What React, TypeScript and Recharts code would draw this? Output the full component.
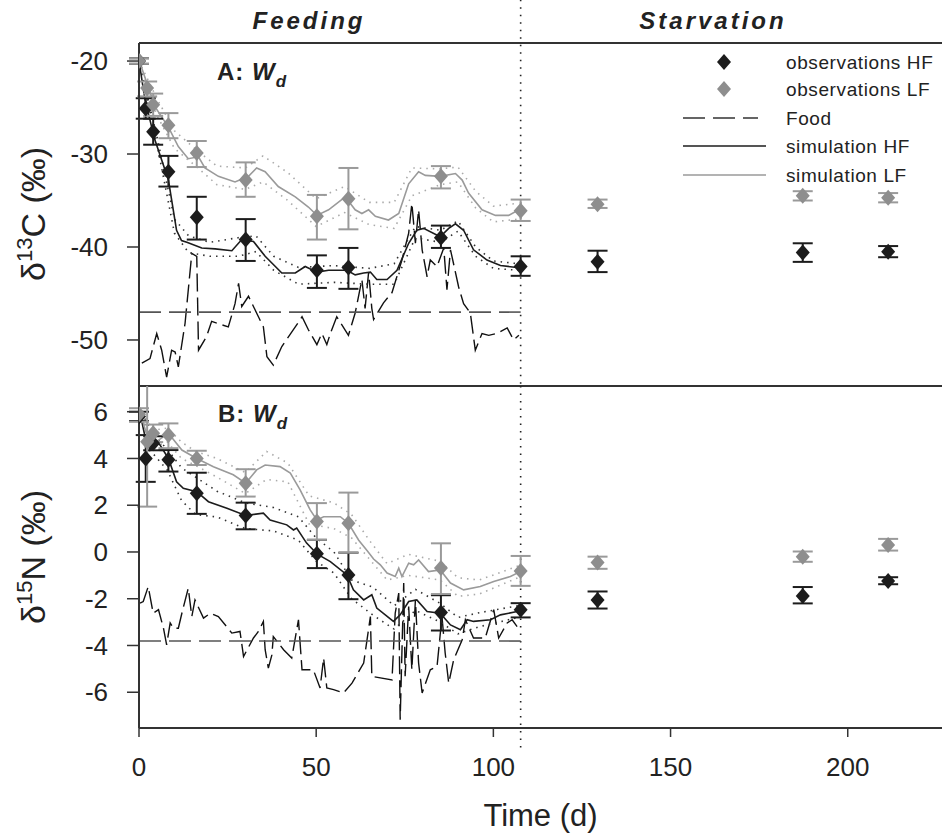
import React from 'react';
import { ComposedChart, Line, Scatter, XAxis, YAxis, ErrorBar, ReferenceLine } from 'recharts';

const FONT = "'Liberation Sans', Arial, sans-serif";

const X_TICKS = [0, 50, 100, 150, 200];
const C_TICKS = [-50, -40, -30, -20];
const N_TICKS = [-6, -4, -2, 0, 2, 4, 6];
const END_FEEDING = 107.7;

// observations: [day, value, lower bar end, upper bar end]
const obsHF_C = [
  [0, -20, -20.3, -19.7], [1.9, -25.1, -26.2, -24.0], [4, -27.6, -29.0, -26.2], [8.3, -31.9, -33.5, -30.2],
  [16.3, -36.8, -39.2, -34.6], [30.1, -39.2, -41.5, -37.0], [50.2, -42.5, -44.4, -40.9], [59.1, -42.2, -44.5, -40.1],
  [85.2, -39.0, -40.1, -37.7], [107.7, -42.1, -43.1, -41.0], [129.4, -41.6, -42.7, -40.4], [187.3, -40.6, -41.6, -39.6],
  [211.4, -40.5, -41.1, -39.9],
];
const obsLF_C = [
  [0, -20, -20.3, -19.7], [2.3, -22.9, -23.8, -22.2], [4, -24.7, -25.9, -23.5], [8.3, -26.9, -28.3, -25.6],
  [16.3, -29.9, -31.4, -28.6], [30.1, -32.8, -34.6, -30.9], [50.2, -36.7, -39.2, -34.4], [59.1, -34.8, -38.1, -31.5],
  [85.2, -32.4, -33.7, -31.3], [107.7, -36.1, -37.2, -34.9], [129.4, -35.4, -35.8, -34.9], [187.3, -34.5, -35.0, -34.0],
  [211.4, -34.7, -35.2, -34.2],
];
const obsHF_N = [
  [0, 5.8, 5.6, 6.0], [1.9, 4.0, 3.0, 5.0], [4, 4.65, 4.35, 4.95], [8.3, 3.94, 3.44, 4.36],
  [16.3, 2.51, 1.63, 3.39], [30.1, 1.56, 0.97, 2.11], [50.2, -0.08, -0.69, 0.52], [59.1, -0.98, -2.02, -0.03],
  [85.2, -2.59, -3.36, -1.85], [107.7, -2.47, -2.8, -2.19], [129.4, -2.05, -2.42, -1.69], [187.3, -1.88, -2.2, -1.5],
  [211.4, -1.24, -1.38, -1.08],
];
const obsLF_N = [
  [0, 5.89, 5.57, 6.15], [2.3, 4.72, 1.94, 7.5], [4, 5.08, 4.7, 5.45], [8.3, 5.0, 4.44, 5.5],
  [16.3, 4.0, 3.72, 4.33], [30.1, 2.94, 2.37, 3.54], [50.2, 1.3, 0.52, 2.09], [59.1, 1.23, -0.03, 2.54],
  [85.2, -0.69, -1.8, 0.37], [107.7, -0.81, -1.45, -0.17], [129.4, -0.45, -0.72, -0.2], [187.3, -0.2, -0.42, 0.02],
  [211.4, 0.3, 0.06, 0.56],
];

// simulations [day, value]
const simHF_C = [
  [0, -20], [1.7, -24.2], [4.5, -28.5], [8.3, -32.8], [10.6, -38.2], [12, -39.3], [13.5, -39.5], [17.7, -40.1],
  [21.5, -40.2], [26.2, -40.4], [29, -39.2], [32.3, -39.4], [35.6, -41.0], [40.3, -42.8], [44.1, -42.8],
  [46.9, -42.1], [50.2, -42.7], [53.5, -42.5], [58.7, -42.5], [61, -43.0], [63.4, -42.8], [65.3, -42.7],
  [67.1, -43.5], [70, -43.5], [72.8, -42.5], [76.1, -39.6], [78.4, -38.2], [80.3, -38.0], [85, -38.9],
  [87.4, -38.0], [89.3, -37.5], [91.6, -38.2], [94.4, -40.3], [98.2, -41.4], [102, -42.0], [106.7, -42.2],
];
const simLF_C = [
  [0, -19.9], [4.5, -24.9], [8.3, -27.1], [11.1, -29.2], [13.9, -30.5], [16.8, -30.3], [18.6, -31.5],
  [22.4, -32.4], [27.1, -33.0], [30.9, -32.4], [33.2, -31.5], [35.6, -31.9], [39.3, -33.5], [44.1, -34.6],
  [47.8, -35.7], [50.2, -36.6], [53.5, -36.0], [58.2, -34.6], [61, -36.0], [62.9, -36.4], [64.8, -36.0],
  [66.7, -36.7], [70.4, -37.1], [73.3, -36.4], [76.1, -33.2], [78.9, -31.9], [80.8, -32.3], [85, -32.4],
  [89.3, -32.1], [91.2, -32.8], [93, -34.2], [96.8, -36.0], [100.6, -36.6], [104.3, -36.6], [107.2, -36.0],
];
const bandHF_C_hi = [
  [0, -20], [5, -28], [10, -37], [14, -38.8], [20, -39.5], [28, -39], [33, -38.8], [38, -41], [45, -42.2],
  [55, -42], [65, -42.3], [72, -41.8], [78, -37.8], [85, -38.2], [90, -37.2], [95, -40], [100, -41.5], [107, -41.8],
];
const bandHF_C_lo = [
  [0, -20], [5, -28.8], [10, -38.5], [14, -40.6], [20, -41.0], [28, -41.0], [33, -40.5], [38, -42.5], [45, -44.0],
  [55, -43.8], [65, -44.0], [72, -44.0], [78, -39], [85, -39.5], [90, -38.3], [95, -41], [100, -42.3], [107, -42.5],
];
const bandLF_C_hi = [
  [0, -20], [5, -24], [10, -27.5], [16, -29.5], [22, -31.3], [30, -31.5], [35, -30.2], [42, -32], [50, -34.8],
  [58, -33.5], [65, -35.2], [72, -35.2], [77, -31.5], [85, -31.6], [90, -31.4], [95, -34], [100, -35.6], [107, -35.3],
];
const bandLF_C_lo = [
  [0, -20], [5, -25.8], [10, -29.4], [16, -31.3], [22, -33.3], [30, -33.8], [35, -33.0], [42, -35], [50, -37.8],
  [58, -36.3], [65, -37.6], [72, -38.0], [77, -34.5], [85, -33.3], [90, -33.0], [95, -35.8], [100, -37.3], [107, -37.0],
];

const simHF_N = [
  [0, 6.15], [1.7, 4.93], [3.1, 4.36], [4.5, 4.72], [5.9, 4.58], [8.3, 4.0], [10.6, 3.0], [12.5, 2.72],
  [16.3, 2.58], [19.6, 2.15], [24.8, 1.87], [30.1, 1.56], [35.1, 1.66], [37, 1.37], [41.7, 1.16], [43.6, 0.94],
  [44.5, 1.02], [47.3, 0.38], [50.2, -0.08], [54, -0.41], [58.7, -0.98], [60.5, -1.62], [63.4, -2.05],
  [65.7, -1.83], [67.1, -2.4], [71.8, -2.97], [73.7, -2.69], [76.1, -2.12], [78.4, -2.05], [81.3, -2.55],
  [85, -2.62], [87.9, -3.12], [90.7, -3.33], [92.6, -2.9], [94.4, -2.97], [99.2, -2.9], [102, -2.69], [106.7, -2.55],
];
const simLF_N = [
  [0, 6.15], [2.2, 5.0], [4.9, 4.72], [8.3, 5.08], [12.1, 4.36], [16.3, 4.0], [21, 3.65], [26.6, 3.3],
  [30.1, 2.94], [33.2, 3.51], [35.6, 3.72], [39.8, 3.65], [42.7, 3.37], [45.5, 2.65], [48.3, 1.8], [50.2, 1.37],
  [52.1, 1.51], [56.8, 1.51], [59.1, 1.23], [62, 0.5], [64.4, 0.05], [66.2, -0.3], [68.1, -0.55], [70, -0.9],
  [72.3, -1.05], [73.3, -0.69], [74.2, -1.05], [76.1, -0.48], [77.5, -0.55], [78.9, -0.34], [81.7, -0.84],
  [85, -0.77], [87.9, -1.33], [91.6, -1.62], [96.3, -1.48], [100.1, -1.26], [104.8, -1.05], [107.6, -0.84],
];
const bandHF_N_hi = [
  [0, 6.2], [4, 5.0], [8, 4.4], [12, 3.6], [16, 3.2], [22, 2.6], [30, 2.1], [38, 1.9], [45, 1.5], [50, 0.6],
  [55, 0], [60, -1.2], [66, -1.5], [72, -2.3], [78, -1.6], [85, -2.2], [90, -2.8], [96, -2.6], [107, -2.3],
];
const bandHF_N_lo = [
  [0, 6.0], [4, 4.2], [8, 3.5], [12, 2.2], [16, 1.6], [22, 1.5], [30, 1.0], [38, 0.9], [45, 0.5], [50, -0.4],
  [55, -0.9], [60, -2.0], [66, -2.7], [72, -3.3], [78, -2.5], [85, -3.0], [90, -3.5], [96, -3.2], [107, -2.8],
];
const bandLF_N_hi = [
  [0, 6.2], [4, 5.2], [8, 5.3], [12, 4.7], [16, 4.3], [22, 4.0], [30, 3.4], [36, 4.3], [42, 3.8], [48, 2.4],
  [55, 2.1], [60, 1.6], [65, 0.5], [70, -0.5], [76, -0.1], [85, -0.4], [90, -1.1], [96, -1.2], [107, -0.6],
];
const bandLF_N_lo = [
  [0, 6.0], [4, 4.5], [8, 4.7], [12, 4.0], [16, 3.7], [22, 3.2], [30, 2.5], [36, 3.1], [42, 3.0], [48, 1.2],
  [55, 1.0], [60, 0.6], [65, -0.3], [70, -1.2], [76, -1.0], [85, -1.2], [90, -1.9], [96, -1.8], [107, -1.1],
];

// food
const foodC = [
  [0.8, -52.5], [3.1, -52.0], [5, -49.3], [6.4, -51.1], [7.8, -54.0], [9.2, -51.1], [10.2, -51.3], [11.1, -52.9],
  [13, -48.2], [14.9, -40.7], [16.3, -41.0], [16.8, -51.1], [19.1, -49.6], [20.5, -48.0], [25.2, -48.6],
  [27.1, -46.1], [28.1, -43.9], [29, -46.4], [30.9, -45.3], [33.7, -47.5], [35.1, -48.6], [36.1, -51.8],
  [37.9, -52.7], [40.3, -50.7], [44.1, -48.6], [46, -47.5], [47.8, -48.9], [50.2, -50.5], [51.6, -49.3],
  [53, -50.5], [54, -49.3], [55.8, -47.5], [59.1, -49.5], [61, -47.1], [62.9, -43.5], [63.8, -46.6],
  [64.8, -42.7], [65.7, -46.6], [66.2, -47.8], [69, -46.0], [71.4, -44.9], [74.2, -41.4], [76.1, -38.5],
  [77, -35.3], [78, -39.6], [78.9, -36.0], [79.9, -40.3], [81.3, -43.2], [82.2, -41.4], [84.1, -42.1],
  [86, -40.1], [86.9, -44.6], [87.9, -40.3], [90.2, -44.3], [91.6, -46.1], [93.5, -47.1], [94.9, -51.1],
  [96.8, -49.3], [98.7, -49.5], [101, -49.3], [103.9, -48.7], [105.7, -50.0], [107.2, -49.5],
];
const foodN = [
  [0.3, -2.19], [1.2, -2.12], [2.6, -1.48], [4, -2.62], [5.5, -2.47], [6.9, -3.26], [7.8, -3.97], [8.8, -3.04],
  [9.7, -3.26], [11.1, -3.26], [12.1, -2.62], [13.9, -1.55], [14.9, -2.76], [15.8, -2.05], [18.2, -2.83],
  [20.1, -2.62], [22.4, -2.76], [26.2, -3.47], [28.5, -3.4], [29.5, -4.47], [32.3, -3.68], [33.7, -3.4],
  [35.1, -2.97], [35.6, -4.18], [36.5, -4.97], [37.5, -4.4], [37.9, -3.62], [40.8, -4.18], [43.1, -4.54],
  [44.5, -3.33], [45, -2.9], [46, -5.04], [49.2, -5.04], [51.1, -5.82], [52.1, -4.54], [53, -5.82],
  [54.9, -5.89], [57.7, -6.03], [60.1, -5.61], [63.4, -4.75], [65.3, -2.76], [65.7, -5.32], [71.4, -5.47],
  [72.3, -2.62], [73.3, -1.76], [73.7, -7.18], [74.7, -1.33], [75.1, -5.32], [76.1, -2.33], [77, -5.04],
  [78, -2.05], [78.9, -4.75], [79.9, -6.03], [82.2, -5.04], [84.1, -4.9], [85.5, -2.76], [86.4, -4.32],
  [87.4, -5.61], [88.8, -4.61], [91.2, -3.76], [92.1, -2.9], [94.4, -3.68], [97.7, -3.68], [100.1, -2.47],
  [101.5, -3.68], [103.9, -3.04], [105.3, -2.9], [106.7, -3.19],
];
const foodMeanC = [[0, -47.0], [107.7, -47.0]];
const foodMeanN = [[0, -3.81], [107.7, -3.81]];

const toPts = (arr: number[][]) => arr.map(([t, v]) => ({ t, v }));
const toObs = (arr: number[][]) => arr.map(([t, v, lo, hi]) => ({ t, v, e: [v - lo, hi - v] }));

const BLACK = '#1c1c1c';
const GREY = '#8e8e8e';
const GREY_LINE = '#9a9a9a';
const AXIS = '#333';

const diamond = (fill: string) => (p: any) => {
  const { cx, cy } = p;
  if (cx == null || cy == null) return <g />;
  return <polygon points={`${cx},${cy - 8} ${cx + 7},${cy} ${cx},${cy + 8} ${cx - 7},${cy}`} fill={fill} />;
};

const lineProps = { dataKey: 'v', dot: false, activeDot: false, isAnimationActive: false, type: 'linear' as const };

function Series({ food, foodMean, bands, simHF, simLF, obsHF, obsLF }: any) {
  return [
    <Line key="food" {...lineProps} data={toPts(food)} stroke="#111" strokeWidth={1.4} strokeDasharray="18 6" />,
    <Line key="fm" {...lineProps} data={toPts(foodMean)} stroke="#555" strokeWidth={1.6} strokeDasharray="22 8" />,
    <Line key="b1" {...lineProps} data={toPts(bands[0])} stroke="#333" strokeWidth={1.6} strokeDasharray="1.5 5" />,
    <Line key="b2" {...lineProps} data={toPts(bands[1])} stroke="#333" strokeWidth={1.6} strokeDasharray="1.5 5" />,
    <Line key="b3" {...lineProps} data={toPts(bands[2])} stroke="#aaa" strokeWidth={1.6} strokeDasharray="1.5 5" />,
    <Line key="b4" {...lineProps} data={toPts(bands[3])} stroke="#aaa" strokeWidth={1.6} strokeDasharray="1.5 5" />,
    <Line key="shf" {...lineProps} data={toPts(simHF)} stroke={BLACK} strokeWidth={1.6} />,
    <Line key="slf" {...lineProps} data={toPts(simLF)} stroke={GREY_LINE} strokeWidth={1.6} />,
    <Scatter key="ohf" data={toObs(obsHF)} dataKey="v" shape={diamond(BLACK)} isAnimationActive={false}>
      <ErrorBar dataKey="e" direction="y" width={10} stroke={BLACK} strokeWidth={2} />
    </Scatter>,
    <Scatter key="olf" data={toObs(obsLF)} dataKey="v" shape={diamond(GREY)} isAnimationActive={false}>
      <ErrorBar dataKey="e" direction="y" width={10} stroke={GREY_LINE} strokeWidth={2} />
    </Scatter>,
  ];
}

const yAxisCommon = {
  type: 'number' as const,
  allowDataOverflow: true,
  width: 139,
  tickSize: 12,
  tickMargin: 19,
  interval: 0 as const,
  tick: { fontSize: 26, fill: '#222', fontFamily: FONT },
  axisLine: { stroke: AXIS, strokeWidth: 2 },
  tickLine: { stroke: AXIS, strokeWidth: 1.5 },
};

const X_DOMAIN: [number, number] = [0, 226.6];

export default function App() {
  return (
    <div style={{ position: 'absolute', left: 0, top: 0, width: 942, height: 839, background: '#fff', fontFamily: FONT }}>
      <div style={{ position: 'absolute', left: 0, top: 0 }}>
        <ComposedChart width={942} height={400} margin={{ top: 43, right: 0, bottom: 0, left: 0 }}>
          <XAxis dataKey="t" type="number" domain={X_DOMAIN} ticks={X_TICKS} allowDataOverflow height={14}
            tick={false} tickSize={9} interval={0}
            axisLine={{ stroke: AXIS, strokeWidth: 2 }} tickLine={{ stroke: AXIS, strokeWidth: 1.5 }} />
          <YAxis {...yAxisCommon} domain={[-54.95, -18.06]} ticks={C_TICKS} />
          <ReferenceLine y={-18.06} stroke={AXIS} strokeWidth={2} ifOverflow="visible" />
          <ReferenceLine segment={[{ x: END_FEEDING, y: -13.4 }, { x: END_FEEDING, y: -54.95 }]}
            stroke="#222" strokeWidth={1.6} strokeDasharray="1.5 6" ifOverflow="visible" />
          {Series({
            food: foodC, foodMean: foodMeanC, bands: [bandHF_C_hi, bandHF_C_lo, bandLF_C_hi, bandLF_C_lo],
            simHF: simHF_C, simLF: simLF_C, obsHF: obsHF_C, obsLF: obsLF_C,
          })}
        </ComposedChart>
      </div>
      <div style={{ position: 'absolute', left: 0, top: 386 }}>
        <ComposedChart width={942} height={453} margin={{ top: 0, right: 0, bottom: 0, left: 0 }}>
          <XAxis dataKey="t" type="number" domain={X_DOMAIN} ticks={X_TICKS} allowDataOverflow height={111}
            tickSize={9} tickMargin={21} interval={0}
            tick={{ fontSize: 26, fill: '#222', fontFamily: FONT }}
            axisLine={{ stroke: AXIS, strokeWidth: 2 }} tickLine={{ stroke: AXIS, strokeWidth: 1.5 }}
            label={{ value: 'Time (d)', position: 'insideBottom', offset: 13, fontSize: 31, fill: '#222', fontFamily: FONT }} />
          <YAxis {...yAxisCommon} domain={[-7.53, 7.1]} ticks={N_TICKS} />
          <ReferenceLine segment={[{ x: END_FEEDING, y: 7.1 }, { x: END_FEEDING, y: -8.4 }]}
            stroke="#222" strokeWidth={1.6} strokeDasharray="1.5 6" ifOverflow="visible" />
          {Series({
            food: foodN, foodMean: foodMeanN, bands: [bandHF_N_hi, bandHF_N_lo, bandLF_N_hi, bandLF_N_lo],
            simHF: simHF_N, simLF: simLF_N, obsHF: obsHF_N, obsLF: obsLF_N,
          })}
        </ComposedChart>
      </div>
      <svg width={942} height={839} style={{ position: 'absolute', left: 0, top: 0, pointerEvents: 'none' }}
        fontFamily={FONT}>
        <text x={309} y={29} textAnchor="middle" fontSize={24} fontWeight="bold" fontStyle="italic"
          letterSpacing={3} fill="#222">Feeding</text>
        <text x={713} y={29} textAnchor="middle" fontSize={24} fontWeight="bold" fontStyle="italic"
          letterSpacing={3} fill="#222">Starvation</text>

        <text x={217} y={80} fontSize={24} fontWeight="bold" fill="#222" letterSpacing={1}>
          A: <tspan fontStyle="italic">W</tspan><tspan fontStyle="italic" fontSize={17} dy={7}>d</tspan>
        </text>
        <text x={218} y={422} fontSize={24} fontWeight="bold" fill="#222" letterSpacing={1}>
          B: <tspan fontStyle="italic">W</tspan><tspan fontStyle="italic" fontSize={17} dy={7}>d</tspan>
        </text>

        <text transform="translate(45,214) rotate(-90)" textAnchor="middle" fontSize={34} fill="#222">
          δ<tspan fontSize={22} dy={-13}>13</tspan><tspan dy={13}>C (‰)</tspan>
        </text>
        <text transform="translate(45,557) rotate(-90)" textAnchor="middle" fontSize={34} fill="#222">
          δ<tspan fontSize={22} dy={-13}>15</tspan><tspan dy={13}>N (‰)</tspan>
        </text>

        <g fontSize={19} fill="#222" letterSpacing={0.6}>
          <polygon points="724,54 731,62 724,70 717,62" fill={BLACK} />
          <text x={786} y={62} dy="0.35em">observations HF</text>
          <polygon points="724,81 731,89 724,97 717,89" fill={GREY} />
          <text x={786} y={89} dy="0.35em">observations LF</text>
          <line x1={683} x2={758} y1={118} y2={118} stroke="#333" strokeWidth={1.5} strokeDasharray="22 8" />
          <text x={786} y={118} dy="0.35em">Food</text>
          <line x1={683} x2={766} y1={146} y2={146} stroke={BLACK} strokeWidth={1.5} />
          <text x={786} y={146} dy="0.35em">simulation HF</text>
          <line x1={683} x2={766} y1={175} y2={175} stroke={GREY_LINE} strokeWidth={1.5} />
          <text x={786} y={175} dy="0.35em">simulation LF</text>
        </g>
      </svg>
    </div>
  );
}
